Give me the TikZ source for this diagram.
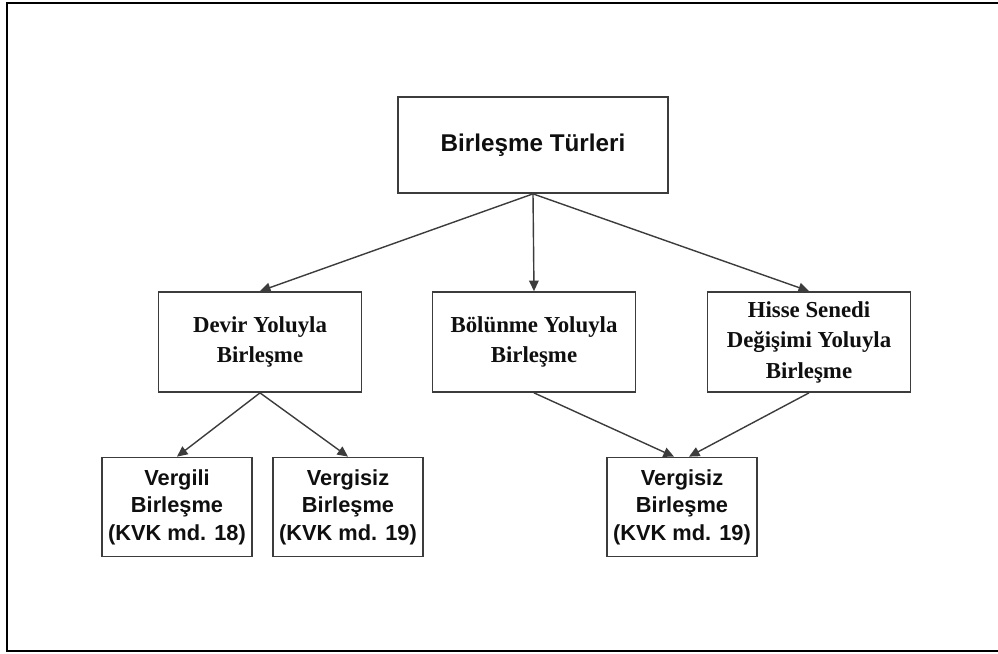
\documentclass[tikz,border=0pt]{standalone}
\usepackage{fontspec}
\setmainfont{Liberation Serif}
\newfontfamily\arialfont{Liberation Sans}
\usepackage{tikz}
\usetikzlibrary{arrows.meta,positioning}
\definecolor{boxline}{RGB}{60,60,60}
\definecolor{darktext}{RGB}{15,15,15}

\begin{document}
\begin{tikzpicture}[x=0.02cm,y=-0.02cm,
  topbox/.style={draw=boxline,line width=1pt,minimum width=5.4cm,minimum height=1.92cm,
                 font=\arialfont\bfseries\fontsize{13.8}{16}\selectfont,text=darktext},
  midbox/.style={draw=boxline,line width=1pt,minimum width=4.06cm,minimum height=2cm,align=center,
                 font=\bfseries\fontsize{13}{17.4}\selectfont,text=darktext},
  lowbox/.style={draw=boxline,line width=1pt,minimum width=2.96cm,minimum height=1.98cm,align=center,
                 font=\arialfont\bfseries\fontsize{12.4}{15.6}\selectfont,text=darktext},
  link/.style={-{Triangle[length=6pt,width=5.5pt]},line width=0.8pt,draw=boxline}]
\useasboundingbox (0,0) rectangle (998,653);
% frame
\draw[line width=1.2pt] (998,3) -- (7,3) -- (7,651) -- (998,651);

% boxes
\node[topbox] (turler) at (533,145) {Birleşme Türleri};
\node[midbox] (devir) at (260,342) {Devir Yoluyla\\Birleşme};
\node[midbox] (bolunme) at (534,342) {Bölünme Yoluyla\\Birleşme};
\node[midbox] (hisse) at (809,342) {Hisse Senedi\\Değişimi Yoluyla\\Birleşme};
\node[lowbox,minimum width=3cm] (vergili) at (177,507) {Vergili\\Birleşme\\(KVK md. 18)};
\node[lowbox,minimum width=2.92cm] (vergisiz) at (348,507) {Vergisiz\\Birleşme\\(KVK md. 19)};
\node[lowbox,minimum width=2.92cm] (vergisizb) at (682,507) {Vergisiz\\Birleşme\\(KVK md. 19)};

% arrows
\draw[link] (turler.south) -- (devir.north);
\draw[link] (turler.south) -- (bolunme.north);
\draw[link] (turler.south) -- (hisse.north);
\draw[link] (devir.south) -- (vergili.north);
\draw[link] (devir.south) -- (vergisiz.north);
\draw[link] (bolunme.south) -- ([xshift=-0.16cm]vergisizb.north);
\draw[link] (hisse.south) -- ([xshift=0.14cm]vergisizb.north);
\end{tikzpicture}
\end{document}
